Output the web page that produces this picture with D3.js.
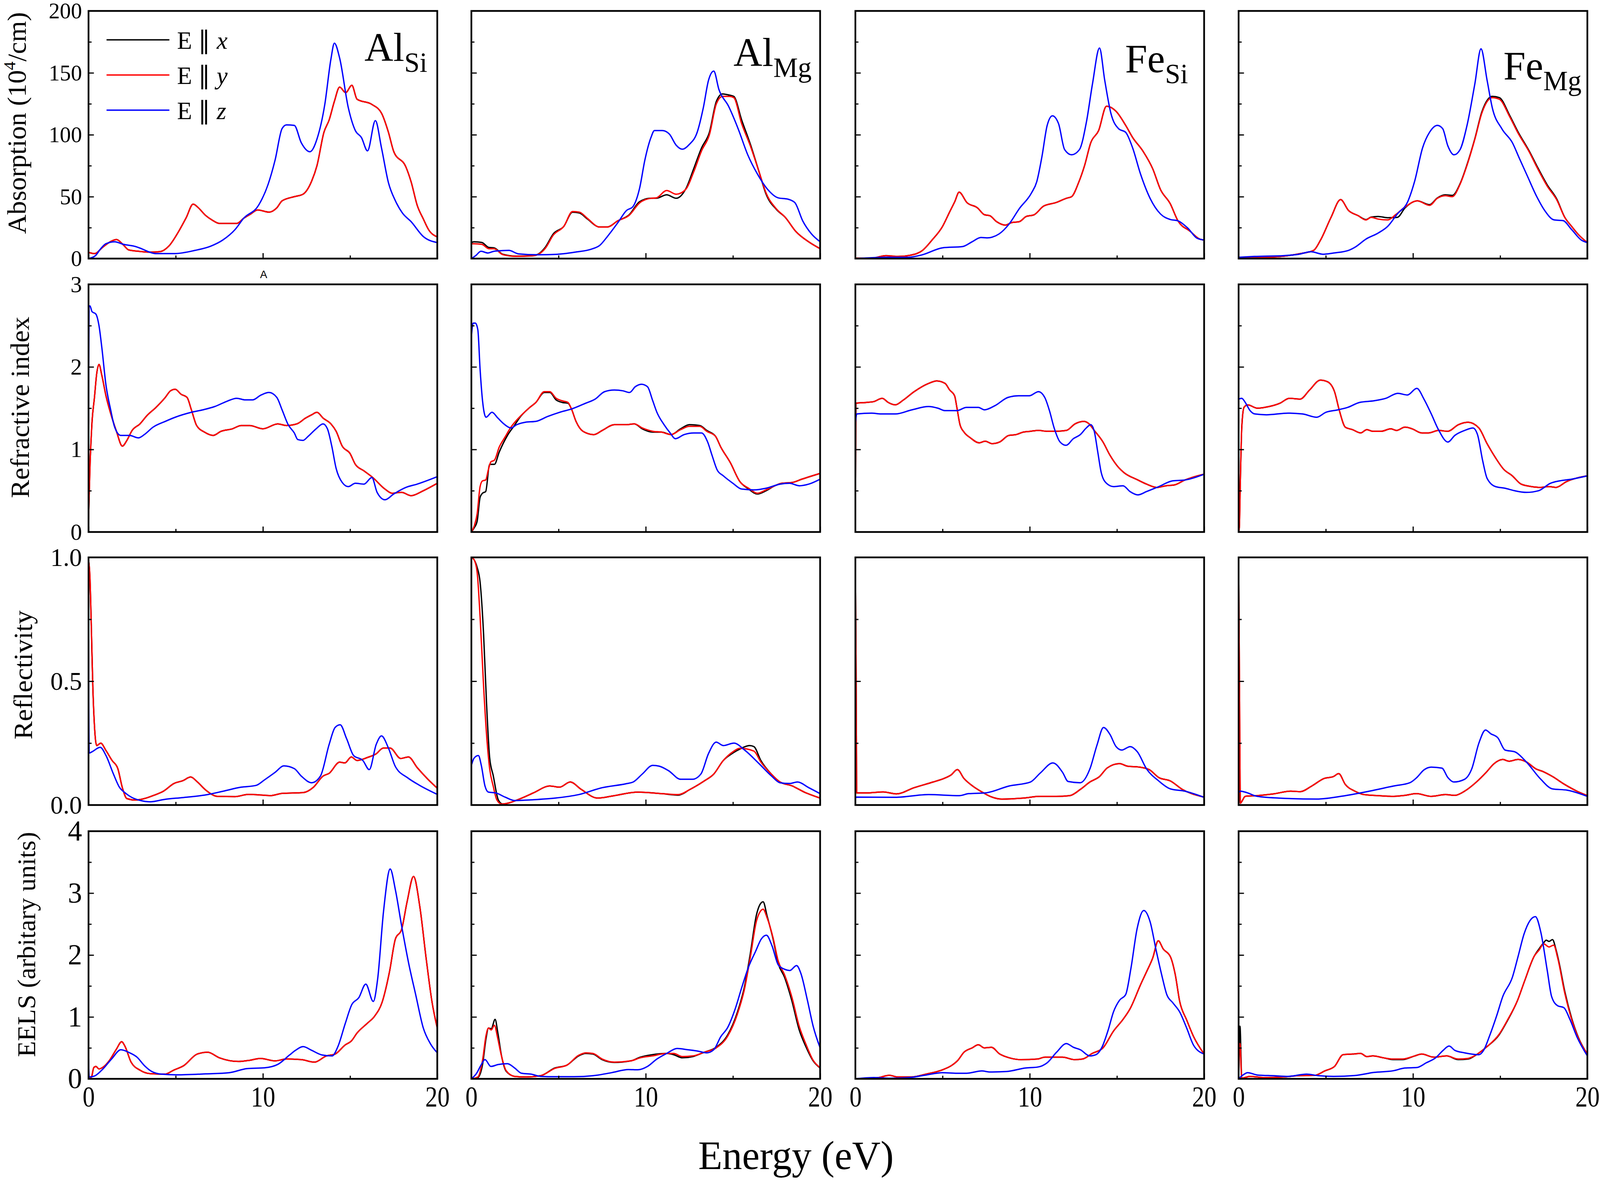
<!DOCTYPE html>
<html>
<head>
<meta charset="utf-8">
<script src="https://cdn.jsdelivr.net/npm/d3@7"></script>
<style>
  body { margin: 0; background: #fff; overflow: hidden; }
  svg { display: block; }
</style>
</head>
<body>
<div class="visuals"></div>
<script>
// ---- data: [energy (eV), value] ----
var energyMajor = [0, 10, 20];
var energyMinor = [5, 15];
var rowTitles = ["Absorption", "Refractive index", "Reflectivity", "EELS (arbitary units)"];
var rowMax = [200, 3, 1, 4];
var rowMajor = [[0, 50, 100, 150, 200], [0, 1, 2, 3], [0, 0.5, 1.0], [0, 1, 2, 3, 4]];
var rowMinor = [[25, 75, 125, 175], [0.5, 1.5, 2.5], [0.25, 0.75], [0.5, 1.5, 2.5, 3.5]];
var panelMain = ["Al", "Al", "Fe", "Fe"];
var panelSub = ["Si", "Mg", "Si", "Mg"];
var seriesNames = ["x", "y", "z"];
var seriesColors = ["#000000", "#ff0000", "#0000ff"];

// absorption (10^4/cm)
var absAlSiY = [[0,5],[0.35,4],[0.8,9],[1.3,14],[1.6,15.4],[2.0,11],[2.3,7],[2.8,6],[3.5,5.2],[4.1,5.6],[4.6,10],[5.2,22.7],[5.6,33],[6.0,44],[6.3,41],[6.7,35],[7.1,31],[7.5,28.4],[8.5,28.4],[8.9,32.6],[9.3,36],[9.7,39.3],[10.35,37.5],[10.8,41],[11.1,46.6],[11.8,50],[12.3,52],[12.8,62.7],[13.1,75],[13.5,102],[13.8,112],[14.1,127],[14.4,138.5],[14.75,134],[15.1,140],[15.4,128.7],[16.25,124.5],[16.8,117.5],[17.2,102],[17.5,86.6],[18.2,74],[18.5,62],[18.85,43],[19.2,32],[19.5,23.4],[20,17.5]];
var absAlSiX = absAlSiY;
var absAlSiZ = [[0,0],[0.4,2.4],[0.7,8],[1.0,12],[1.5,13.6],[2.0,11.5],[2.7,9.7],[3.2,7],[3.5,5.2],[3.9,4],[4.9,4],[6.1,6.6],[7.0,10],[7.7,15],[8.4,23.4],[8.9,32.6],[9.75,43],[10.3,60],[10.7,79.6],[11.1,105],[11.35,108],[11.8,107.6],[12.2,93.6],[12.7,86.3],[13.1,96.5],[13.55,124.5],[13.9,161],[14.1,174],[14.4,162],[14.9,121.7],[15.3,103.4],[15.65,97.8],[16.0,87],[16.45,111.4],[16.8,89.5],[17.2,61.3],[17.6,46.6],[18.0,36.8],[18.5,29.8],[19.2,17.8],[20,12.9]];
var absAlMgX = [[0,13],[0.15,13.6],[0.6,13],[1.0,9],[1.3,8.7],[1.8,3.5],[2.55,2],[3.5,2.4],[3.85,3.8],[4.25,9.4],[4.7,20],[5.3,26],[5.8,37.5],[6.2,36.8],[6.65,32],[7.35,25.5],[7.8,25.5],[8.4,30.5],[9.05,35.4],[9.65,46],[10.3,48.7],[10.6,48.7],[11.2,51.5],[11.75,48.7],[12.3,56.4],[12.75,72.6],[13.2,89.4],[13.65,102],[14.05,127],[14.4,133],[14.8,132],[15.05,131],[15.5,112],[16.0,92.4],[16.5,70],[16.9,52],[17.5,39.6],[18.0,33.3],[18.6,22],[19.4,13],[20,8]];
var absAlMgY = [[0,12],[0.15,12],[0.6,11.5],[1.0,8],[1.3,8],[1.8,3.2],[2.55,1.8],[3.5,2.2],[3.85,3.5],[4.25,8.5],[4.7,19],[5.3,26],[5.8,38],[6.2,37.5],[6.65,32.5],[7.35,25.5],[7.8,25.5],[8.4,30.5],[9.05,35],[9.65,45],[10.3,48.7],[10.6,49],[11.2,55],[11.75,52],[12.3,56],[12.75,70],[13.2,87],[13.65,100],[14.05,125],[14.4,131],[14.8,131],[15.05,130],[15.5,109],[16.0,91],[16.5,70],[16.9,53],[17.5,40],[18.0,33.3],[18.6,22],[19.4,13],[20,8]];
var absAlMgZ = [[0,0],[0.25,2.4],[0.55,5.9],[0.95,4.5],[1.3,5.9],[2.15,6.6],[2.7,3.8],[3.8,3.1],[4.85,3.4],[5.95,5.2],[6.9,7.7],[7.35,10.5],[7.8,17.8],[8.4,29],[8.9,38.9],[9.25,41.7],[9.65,57],[9.95,79.6],[10.3,97.8],[10.5,103.4],[10.95,103.4],[11.35,100.6],[11.75,91.5],[12.1,88.3],[12.5,92.2],[12.95,102],[13.3,121.7],[13.6,144],[13.9,151.4],[14.2,136.4],[14.75,123],[15.3,104.8],[15.85,83.8],[16.4,68.4],[17.0,55.7],[17.6,49],[18.15,48],[18.55,45.2],[19.0,30.5],[19.5,20],[20,13.6]];
var absFeSiY = [[0,0.3],[1.0,0.5],[1.75,2.4],[2.45,1.7],[3.15,2.7],[3.85,6.6],[4.4,15],[5.0,26],[5.4,37.5],[5.7,46],[5.95,53.6],[6.4,45.2],[7.0,41],[7.4,35.4],[7.7,34.7],[8.1,29.8],[8.6,27],[8.95,29],[9.4,29.8],[9.8,34],[10.25,35.4],[10.8,42.4],[11.5,45.2],[12.1,48.7],[12.4,50],[12.8,61.3],[13.15,75.4],[13.5,93.6],[13.95,103.4],[14.4,123],[14.95,118.9],[15.5,107.6],[15.9,97.8],[16.5,86.6],[17.05,72.6],[17.5,55.7],[18.05,44.5],[18.5,30.5],[19.2,22],[19.75,15.7],[20,15]];
var absFeSiX = absFeSiY;
var absFeSiZ = [[0,0],[1.9,1],[3.0,1],[3.85,3.1],[5.0,8.7],[6.15,9.7],[6.7,13.6],[7.2,17],[7.55,16.7],[8.25,20],[8.8,27.6],[9.4,40.3],[10.1,53],[10.4,62],[10.7,82.4],[11.0,107.6],[11.3,115.3],[11.65,109],[12.0,88],[12.4,83.8],[12.85,88],[13.25,110.3],[13.6,141.3],[14.0,170],[14.3,144],[14.65,117.5],[15.1,104.8],[15.5,102],[15.9,89.4],[16.35,68.4],[16.9,48.7],[17.5,36],[18.05,31.6],[18.5,30.5],[19.05,24.8],[19.6,16.4],[20,15]];
var absFeMgX = [[0,0.3],[1.15,0.7],[2.6,2],[3.45,3.8],[4.3,6.6],[4.7,15],[5.3,33.3],[5.85,47.6],[6.3,38.9],[6.85,34.7],[7.3,31.5],[7.6,33.5],[8.0,34],[8.55,33],[9.1,33.3],[9.55,41],[10.25,46.6],[10.95,43.5],[11.4,49],[11.85,51.5],[12.25,51],[12.7,60.5],[13.1,76],[13.55,97],[13.95,118.5],[14.55,131],[14.95,130],[15.55,115.5],[16.0,103],[16.7,86],[17.1,75],[17.7,59.5],[18.25,48],[18.7,33.5],[19.1,26],[19.5,19.2],[20,12.9]];
var absFeMgY = [[0,0.3],[1.15,0.7],[2.6,2],[3.45,3.8],[4.3,6.6],[4.7,15],[5.3,33.3],[5.85,47.6],[6.3,38.9],[6.85,34.7],[7.3,31.2],[7.6,33.3],[8.0,31.9],[8.55,31.2],[9.0,35.4],[9.55,41.7],[10.25,46.6],[10.95,43],[11.4,48.7],[11.85,50.8],[12.25,50],[12.7,60],[13.1,75.4],[13.55,96.5],[13.95,117.5],[14.55,130],[14.95,128.7],[15.55,114.5],[16.0,102],[16.7,85.3],[17.1,74],[17.7,58.5],[18.25,47.3],[18.7,33.3],[19.1,26],[19.5,19.2],[20,12.9]];
var absFeMgZ = [[0,1],[0.9,1.7],[2.6,2.4],[3.45,3.5],[4.15,5.5],[4.85,3.5],[5.45,4.5],[6.3,6.6],[6.7,9.4],[7.3,15.7],[8.0,20.6],[8.55,26],[9.1,36],[9.7,46],[10.1,62.7],[10.55,89.4],[10.95,102],[11.4,107.6],[11.7,105],[12.0,91],[12.35,83.8],[12.7,88],[13.1,107.6],[13.55,141.3],[13.9,169.4],[14.25,144],[14.55,121.7],[15.1,104.8],[15.7,93.6],[16.1,81],[16.55,67],[17.1,50],[17.55,38.9],[18.1,31.2],[18.6,30.7],[19.1,23.4],[19.65,15],[20,12.9]];

// refractive index
var refAlSiY = [[0,0.15],[0.08,0.77],[0.2,1.33],[0.34,1.63],[0.47,1.92],[0.6,2.03],[0.76,1.9],[1.0,1.65],[1.35,1.38],[1.6,1.22],[1.94,1.04],[2.2,1.11],[2.5,1.23],[2.95,1.31],[3.35,1.41],[3.87,1.51],[4.4,1.63],[4.7,1.71],[4.97,1.73],[5.3,1.67],[5.65,1.63],[5.9,1.48],[6.2,1.29],[6.65,1.21],[7.15,1.17],[7.6,1.22],[8.25,1.25],[8.75,1.29],[9.25,1.29],[10.0,1.25],[10.85,1.31],[11.35,1.29],[11.95,1.31],[12.45,1.38],[12.8,1.42],[13.1,1.45],[13.45,1.38],[13.9,1.31],[14.2,1.22],[14.55,1.04],[15.0,0.95],[15.3,0.82],[15.8,0.74],[16.3,0.66],[17.0,0.52],[17.4,0.47],[17.95,0.48],[18.5,0.44],[19.2,0.5],[20,0.59]];
var refAlSiX = refAlSiY;
var refAlSiZ = [[0,1.3],[0.03,2.73],[0.08,2.74],[0.2,2.67],[0.42,2.64],[0.6,2.5],[0.76,2.24],[1.0,1.78],[1.26,1.49],[1.5,1.27],[1.85,1.17],[2.35,1.17],[2.86,1.14],[3.2,1.18],[3.7,1.27],[4.4,1.34],[4.97,1.39],[5.9,1.45],[6.56,1.48],[7.24,1.52],[7.9,1.58],[8.5,1.62],[9.0,1.6],[9.4,1.6],[9.9,1.66],[10.35,1.69],[10.8,1.63],[11.1,1.48],[11.45,1.3],[11.8,1.2],[12.0,1.12],[12.3,1.11],[12.6,1.16],[13.05,1.25],[13.45,1.31],[13.7,1.25],[13.95,1.04],[14.2,0.77],[14.55,0.6],[14.9,0.55],[15.3,0.59],[15.8,0.58],[16.25,0.66],[16.55,0.48],[17.0,0.39],[17.5,0.46],[18.2,0.54],[18.85,0.58],[20,0.67]];
var refAlMgX = [[0,0],[0.16,0.05],[0.33,0.13],[0.5,0.42],[0.64,0.47],[0.82,0.49],[1.05,0.82],[1.32,0.82],[1.6,0.97],[2.07,1.17],[2.5,1.3],[2.75,1.38],[3.3,1.5],[3.7,1.57],[4.18,1.69],[4.5,1.69],[4.86,1.6],[5.2,1.57],[5.54,1.56],[5.74,1.49],[6.0,1.34],[6.4,1.22],[7.03,1.18],[7.5,1.23],[8.2,1.3],[8.87,1.3],[9.35,1.31],[9.8,1.25],[10.4,1.21],[10.9,1.21],[11.45,1.18],[12.0,1.25],[12.5,1.3],[13.1,1.29],[13.5,1.23],[14.0,1.16],[14.3,1.03],[14.85,0.84],[15.4,0.61],[15.9,0.52],[16.4,0.46],[16.9,0.5],[17.4,0.56],[17.8,0.59],[18.4,0.6],[18.95,0.64],[20,0.71]];
var refAlMgY = [[0,0],[0.16,0.07],[0.33,0.22],[0.5,0.55],[0.64,0.62],[0.82,0.63],[0.98,0.76],[1.12,0.85],[1.32,0.87],[1.6,1.03],[1.93,1.15],[2.27,1.27],[2.75,1.39],[3.3,1.5],[3.7,1.57],[4.18,1.7],[4.5,1.7],[4.86,1.62],[5.2,1.59],[5.54,1.57],[5.74,1.49],[6.0,1.34],[6.4,1.22],[7.03,1.18],[7.5,1.23],[8.2,1.3],[8.87,1.3],[9.35,1.31],[9.8,1.26],[10.4,1.22],[10.9,1.21],[11.45,1.18],[12.0,1.24],[12.5,1.28],[13.1,1.28],[13.5,1.22],[14.0,1.16],[14.3,1.03],[14.85,0.84],[15.4,0.61],[15.9,0.53],[16.4,0.47],[16.9,0.51],[17.4,0.56],[17.8,0.59],[18.4,0.6],[18.95,0.64],[20,0.71]];
var refAlMgZ = [[0,2.36],[0.1,2.53],[0.23,2.53],[0.37,2.45],[0.5,1.97],[0.64,1.59],[0.84,1.39],[1.18,1.45],[1.52,1.38],[1.86,1.31],[2.27,1.26],[2.6,1.3],[3.1,1.33],[3.7,1.34],[4.38,1.4],[5.06,1.45],[5.74,1.49],[6.55,1.56],[7.1,1.61],[7.64,1.7],[8.2,1.72],[8.7,1.71],[9.07,1.69],[9.4,1.76],[9.75,1.79],[10.1,1.76],[10.4,1.59],[10.64,1.45],[11.05,1.3],[11.4,1.2],[11.7,1.13],[12.2,1.18],[12.75,1.2],[13.2,1.2],[13.55,1.09],[13.8,0.93],[14.1,0.75],[14.45,0.68],[15.0,0.59],[15.5,0.52],[16.2,0.51],[16.9,0.53],[17.7,0.58],[18.25,0.59],[18.8,0.56],[19.35,0.58],[20,0.64]];
var refFeSiY = [[0,0],[0.03,1.56],[0.65,1.57],[1.06,1.58],[1.54,1.62],[1.88,1.57],[2.29,1.54],[2.76,1.6],[3.37,1.7],[4.2,1.8],[4.67,1.83],[5.14,1.8],[5.41,1.72],[5.69,1.65],[5.82,1.51],[6.0,1.3],[6.23,1.21],[6.6,1.14],[7.1,1.08],[7.44,1.1],[7.85,1.07],[8.27,1.09],[8.8,1.17],[9.22,1.18],[9.63,1.21],[10.04,1.22],[10.5,1.23],[11.0,1.22],[11.5,1.22],[12.1,1.23],[12.6,1.31],[13.1,1.34],[13.4,1.31],[13.7,1.23],[14.2,1.09],[14.6,0.93],[15.1,0.78],[15.4,0.72],[16.2,0.63],[16.7,0.58],[17.3,0.54],[17.8,0.56],[18.3,0.57],[18.9,0.63],[20,0.7]];
var refFeSiX = refFeSiY;
var refFeSiZ = [[0,1.3],[0.08,1.43],[0.93,1.44],[1.47,1.43],[2.29,1.43],[3.24,1.48],[4.2,1.52],[4.73,1.5],[5.14,1.47],[5.82,1.47],[6.37,1.51],[7.05,1.51],[7.4,1.48],[8.0,1.53],[8.75,1.63],[9.36,1.65],[9.97,1.65],[10.5,1.7],[10.86,1.63],[11.13,1.47],[11.4,1.26],[11.74,1.09],[12.08,1.05],[12.5,1.13],[12.9,1.18],[13.24,1.26],[13.5,1.3],[13.7,1.22],[13.9,0.97],[14.1,0.72],[14.4,0.59],[14.8,0.55],[15.35,0.56],[15.75,0.49],[16.2,0.45],[16.7,0.49],[17.4,0.55],[18.2,0.62],[18.9,0.63],[20,0.7]];
var refFeMgY = [[0,0],[0.04,0.05],[0.1,0.63],[0.18,1.26],[0.31,1.51],[0.52,1.54],[1.07,1.5],[1.75,1.52],[2.37,1.56],[2.91,1.62],[3.53,1.61],[4.07,1.72],[4.69,1.84],[5.1,1.82],[5.5,1.7],[5.78,1.47],[6.12,1.27],[6.53,1.24],[7.0,1.2],[7.35,1.24],[7.7,1.22],[8.18,1.22],[8.72,1.25],[9.06,1.23],[9.54,1.27],[9.95,1.25],[10.5,1.2],[10.9,1.2],[11.46,1.23],[12.0,1.22],[12.6,1.3],[13.16,1.33],[13.78,1.26],[14.25,1.07],[14.73,0.9],[15.2,0.76],[15.7,0.68],[16.2,0.58],[16.8,0.55],[17.3,0.54],[17.8,0.55],[18.2,0.54],[18.8,0.61],[20,0.68]];
var refFeMgX = refFeMgY;
var refFeMgZ = [[0,1.61],[0.18,1.62],[0.38,1.57],[0.66,1.47],[0.93,1.43],[1.6,1.42],[2.84,1.44],[3.66,1.43],[4.48,1.39],[5.0,1.45],[5.7,1.48],[6.26,1.51],[6.94,1.57],[7.77,1.59],[8.45,1.62],[9.13,1.68],[9.68,1.66],[10.22,1.74],[10.63,1.61],[11.05,1.43],[11.46,1.24],[12.0,1.09],[12.4,1.17],[12.96,1.23],[13.44,1.26],[13.7,1.18],[14.0,0.86],[14.25,0.65],[14.73,0.55],[15.28,0.53],[15.83,0.5],[16.5,0.48],[17.2,0.5],[17.88,0.59],[18.43,0.62],[19.1,0.64],[20,0.68]];

// reflectivity
var reflAlSiY = [[0,0.99],[0.08,0.92],[0.17,0.69],[0.25,0.47],[0.34,0.32],[0.47,0.24],[0.7,0.25],[1.0,0.22],[1.35,0.18],[1.68,0.147],[1.94,0.07],[2.2,0.026],[2.7,0.02],[3.2,0.026],[3.7,0.038],[4.3,0.056],[4.9,0.087],[5.4,0.098],[5.86,0.113],[6.23,0.094],[6.73,0.06],[7.4,0.035],[8.4,0.034],[9.17,0.043],[9.76,0.041],[10.44,0.038],[11.1,0.047],[12.3,0.05],[12.9,0.072],[13.45,0.117],[13.8,0.128],[14.4,0.173],[14.7,0.17],[15.07,0.194],[15.4,0.18],[16.0,0.192],[16.5,0.207],[16.9,0.23],[17.3,0.23],[17.9,0.188],[18.35,0.194],[18.85,0.151],[19.45,0.105],[20,0.068]];
var reflAlSiX = reflAlSiY;
var reflAlSiZ = [[0,0.67],[0.04,0.21],[0.2,0.215],[0.67,0.233],[1.0,0.2],[1.43,0.125],[1.77,0.072],[2.1,0.049],[2.5,0.03],[2.95,0.019],[3.54,0.013],[4.38,0.023],[5.4,0.03],[6.73,0.041],[7.74,0.056],[8.75,0.072],[9.6,0.079],[10.1,0.102],[10.7,0.132],[11.2,0.158],[11.8,0.147],[12.2,0.117],[12.8,0.09],[13.3,0.117],[13.8,0.245],[14.14,0.313],[14.43,0.324],[14.8,0.268],[15.2,0.2],[15.73,0.18],[16.1,0.143],[16.5,0.245],[16.8,0.279],[17.2,0.23],[17.6,0.155],[18.3,0.11],[19.0,0.079],[20,0.043]];
var reflAlMgX = [[0,1.0],[0.16,0.99],[0.33,0.96],[0.5,0.9],[0.7,0.69],[0.87,0.41],[1.05,0.19],[1.25,0.12],[1.55,0.02],[1.8,0.004],[2.07,0.007],[2.75,0.024],[3.56,0.049],[4.5,0.077],[5.06,0.072],[5.67,0.093],[6.3,0.063],[7.24,0.028],[8.2,0.038],[9.55,0.052],[10.9,0.046],[11.86,0.04],[12.54,0.063],[13.35,0.097],[13.9,0.125],[14.45,0.18],[15.0,0.21],[15.4,0.226],[15.95,0.24],[16.2,0.236],[16.6,0.18],[17.2,0.125],[17.7,0.093],[18.4,0.077],[19.1,0.052],[20,0.028]];
var reflAlMgY = [[0,1.0],[0.16,0.99],[0.33,0.94],[0.5,0.76],[0.7,0.48],[0.87,0.285],[1.05,0.146],[1.25,0.077],[1.46,0.021],[1.73,0.004],[2.07,0.007],[2.75,0.024],[3.56,0.049],[4.5,0.077],[5.06,0.072],[5.67,0.093],[6.3,0.063],[7.24,0.028],[8.2,0.038],[9.55,0.052],[10.9,0.046],[11.86,0.042],[12.54,0.063],[13.35,0.097],[13.9,0.125],[14.45,0.18],[15.0,0.215],[15.4,0.229],[16.2,0.218],[16.6,0.174],[17.2,0.125],[17.7,0.093],[18.4,0.077],[19.1,0.052],[20,0.028]];
var reflAlMgZ = [[0,0.16],[0.16,0.19],[0.4,0.2],[0.57,0.16],[0.78,0.077],[0.98,0.052],[1.39,0.049],[1.93,0.032],[2.48,0.018],[3.43,0.021],[4.8,0.028],[6.15,0.042],[7.5,0.07],[8.87,0.086],[9.28,0.093],[9.8,0.125],[10.4,0.16],[10.77,0.157],[11.3,0.139],[12.0,0.104],[12.68,0.104],[13.16,0.125],[13.6,0.208],[14.04,0.254],[14.45,0.24],[15.06,0.25],[15.67,0.222],[16.5,0.167],[17.2,0.118],[17.7,0.09],[18.25,0.087],[18.7,0.093],[19.35,0.07],[20,0.046]];
var reflFeSiY = [[0,1.0],[0.04,0.55],[0.08,0.049],[0.65,0.049],[1.6,0.053],[2.35,0.045],[3.37,0.07],[4.46,0.093],[5.07,0.107],[5.48,0.121],[5.85,0.143],[6.23,0.107],[6.78,0.074],[7.18,0.056],[7.73,0.035],[8.4,0.024],[9.63,0.028],[10.6,0.035],[11.5,0.035],[12.3,0.038],[12.9,0.063],[13.45,0.093],[14.0,0.115],[14.45,0.15],[15.15,0.167],[15.6,0.157],[16.3,0.153],[16.85,0.143],[17.4,0.111],[18.07,0.097],[18.75,0.063],[20,0.032]];
var reflFeSiX = reflFeSiY;
var reflFeSiZ = [[0,0.021],[0.04,0.032],[2.28,0.031],[4.2,0.042],[5.96,0.038],[6.5,0.046],[7.46,0.049],[8.82,0.077],[10.04,0.093],[10.6,0.129],[11.33,0.17],[11.88,0.132],[12.2,0.095],[12.9,0.09],[13.45,0.146],[13.86,0.243],[14.23,0.313],[14.6,0.285],[14.95,0.236],[15.28,0.222],[15.76,0.236],[16.17,0.215],[16.7,0.146],[17.4,0.097],[18.07,0.065],[18.9,0.056],[20,0.031]];
var reflFeMgY = [[0,1.0],[0.05,0.48],[0.1,0.007],[0.18,0.014],[0.38,0.035],[1.07,0.038],[2.0,0.045],[3.0,0.056],[3.53,0.054],[4.2,0.077],[4.9,0.107],[5.44,0.115],[5.74,0.127],[6.12,0.083],[6.67,0.056],[7.2,0.042],[8.0,0.038],[8.9,0.035],[9.54,0.039],[10.2,0.046],[11.05,0.035],[11.86,0.042],[12.4,0.039],[12.96,0.056],[13.64,0.093],[14.2,0.132],[14.65,0.167],[15.15,0.184],[15.5,0.177],[16.03,0.184],[16.5,0.174],[17.05,0.146],[17.46,0.135],[18.0,0.115],[18.7,0.083],[19.4,0.056],[20,0.038]];
var reflFeMgX = reflFeMgY;
var reflFeMgZ = [[0,0.049],[0.1,0.056],[0.38,0.052],[1.07,0.035],[2.3,0.028],[4.48,0.024],[6.12,0.038],[7.5,0.056],[8.9,0.077],[9.82,0.09],[10.22,0.111],[10.63,0.142],[11.05,0.153],[11.66,0.149],[12.0,0.111],[12.34,0.093],[12.96,0.104],[13.37,0.146],[13.78,0.25],[14.16,0.303],[14.46,0.288],[14.87,0.271],[15.28,0.222],[15.83,0.215],[16.5,0.174],[17.33,0.104],[18.0,0.065],[18.84,0.06],[20,0.035]];

// EELS (arbitrary units)
var eelsAlSiY = [[0,0],[0.17,0.03],[0.3,0.18],[0.42,0.2],[0.6,0.16],[0.84,0.19],[1.18,0.29],[1.6,0.48],[1.9,0.6],[2.1,0.52],[2.44,0.27],[2.95,0.14],[3.54,0.083],[4.38,0.075],[4.88,0.14],[5.47,0.215],[6.23,0.4],[6.82,0.43],[7.5,0.34],[8.6,0.28],[9.26,0.3],[9.85,0.33],[10.7,0.29],[11.36,0.32],[12.2,0.31],[12.96,0.27],[13.64,0.37],[14.14,0.4],[14.73,0.55],[15.07,0.61],[15.4,0.74],[16.0,0.9],[16.4,1.01],[16.84,1.24],[17.26,1.73],[17.6,2.26],[17.95,2.41],[18.27,2.86],[18.64,3.27],[19.0,2.78],[19.36,1.95],[19.7,1.24],[20,0.82]];
var eelsAlSiX = eelsAlSiY;
var eelsAlSiZ = [[0,0.33],[0.04,0.03],[0.34,0.045],[0.76,0.14],[1.35,0.33],[1.85,0.47],[2.36,0.42],[2.78,0.35],[3.2,0.215],[3.62,0.12],[4.2,0.075],[5.05,0.064],[6.73,0.08],[8.08,0.1],[9.1,0.166],[10.1,0.178],[10.86,0.234],[11.53,0.385],[11.87,0.46],[12.3,0.52],[12.8,0.46],[13.4,0.385],[13.97,0.37],[14.3,0.52],[14.73,0.9],[15.1,1.2],[15.5,1.31],[15.9,1.53],[16.33,1.25],[16.58,1.61],[16.92,2.71],[17.3,3.39],[17.6,3.05],[17.95,2.48],[18.35,1.88],[18.77,1.35],[19.2,0.82],[19.6,0.57],[20,0.42]];
var eelsAlMgX = [[0,0],[0.37,0.02],[0.64,0.23],[0.84,0.65],[0.98,0.82],[1.14,0.81],[1.36,0.96],[1.52,0.74],[1.73,0.37],[2.0,0.12],[2.48,0.04],[3.16,0.03],[3.97,0.05],[4.79,0.175],[5.47,0.22],[6.15,0.37],[6.56,0.41],[6.97,0.4],[7.5,0.31],[8.2,0.265],[9.14,0.29],[9.69,0.35],[10.37,0.39],[11.2,0.41],[11.6,0.39],[12.1,0.34],[12.7,0.36],[13.36,0.43],[14.04,0.51],[14.7,0.71],[15.26,1.08],[15.67,1.5],[16.0,2.03],[16.35,2.65],[16.56,2.82],[16.73,2.86],[16.96,2.63],[17.3,2.26],[17.6,1.86],[17.96,1.64],[18.37,1.27],[18.8,0.79],[19.2,0.51],[19.6,0.29],[20,0.175]];
var eelsAlMgY = [[0,0],[0.37,0.03],[0.64,0.3],[0.84,0.7],[0.98,0.82],[1.14,0.79],[1.32,0.865],[1.5,0.67],[1.7,0.4],[2.0,0.13],[2.48,0.04],[3.16,0.03],[3.97,0.05],[4.79,0.17],[5.47,0.22],[6.15,0.38],[6.56,0.42],[6.97,0.41],[7.5,0.32],[8.2,0.27],[9.14,0.29],[9.69,0.34],[10.37,0.37],[11.2,0.41],[11.6,0.41],[12.1,0.36],[12.7,0.37],[13.36,0.43],[14.04,0.5],[14.7,0.69],[15.26,1.05],[15.67,1.46],[16.0,1.97],[16.35,2.55],[16.56,2.7],[16.73,2.74],[16.96,2.6],[17.3,2.28],[17.6,1.9],[17.96,1.68],[18.37,1.33],[18.8,0.85],[19.2,0.55],[19.6,0.3],[20,0.18]];
var eelsAlMgZ = [[0,0],[0.3,0.09],[0.55,0.22],[0.78,0.31],[1.12,0.2],[1.52,0.23],[2.07,0.245],[2.48,0.175],[2.88,0.09],[3.43,0.076],[3.97,0.04],[4.79,0.034],[5.88,0.034],[6.97,0.05],[8.05,0.1],[9.0,0.15],[9.55,0.146],[10.1,0.2],[10.64,0.32],[11.2,0.41],[11.8,0.49],[12.4,0.47],[12.95,0.45],[13.5,0.42],[13.9,0.47],[14.3,0.68],[14.7,0.83],[15.13,1.13],[15.5,1.47],[15.9,1.81],[16.3,2.06],[16.63,2.26],[16.92,2.32],[17.24,2.15],[17.6,1.84],[17.96,1.77],[18.26,1.75],[18.65,1.83],[18.9,1.7],[19.27,1.27],[19.6,0.85],[20,0.5]];
var eelsFeSiY = [[0,0],[0.65,0],[1.33,0.02],[1.95,0.056],[2.42,0.03],[3.24,0.03],[4.05,0.076],[5.0,0.146],[5.54,0.22],[5.88,0.3],[6.23,0.43],[6.7,0.5],[7.05,0.55],[7.4,0.5],[7.8,0.51],[8.28,0.4],[8.82,0.34],[9.5,0.31],[10.45,0.32],[10.86,0.35],[11.88,0.35],[12.56,0.31],[13.03,0.32],[13.58,0.41],[14.2,0.5],[14.8,0.77],[15.35,0.96],[15.75,1.13],[16.37,1.53],[16.7,1.73],[17.05,1.95],[17.37,2.23],[17.65,2.1],[18.07,1.97],[18.34,1.69],[18.6,1.25],[19.0,0.95],[19.4,0.68],[20,0.4]];
var eelsFeSiX = eelsFeSiY;
var eelsFeSiZ = [[0,0],[1.06,0.02],[2.0,0.01],[3.1,0.02],[4.05,0.062],[5.0,0.1],[5.82,0.09],[6.37,0.09],[7.25,0.127],[7.73,0.11],[8.67,0.118],[9.76,0.175],[10.45,0.19],[11.0,0.26],[11.54,0.43],[12.1,0.57],[12.5,0.51],[12.9,0.47],[13.45,0.37],[13.8,0.39],[14.14,0.51],[14.5,0.79],[14.8,1.08],[15.15,1.27],[15.5,1.36],[15.8,1.78],[16.16,2.43],[16.54,2.72],[16.9,2.54],[17.26,2.06],[17.6,1.64],[17.86,1.36],[18.2,1.23],[18.6,1.08],[19.0,0.82],[19.4,0.54],[20,0.4]];
var eelsFeMgX = [[0,0],[0.08,0.85],[0.18,0.01],[0.66,0.04],[1.48,0.02],[2.57,0.03],[3.4,0.05],[4.35,0.056],[4.96,0.13],[5.5,0.2],[5.99,0.39],[6.53,0.4],[7.0,0.41],[7.35,0.36],[7.7,0.37],[8.3,0.34],[8.86,0.31],[9.4,0.31],[10.1,0.37],[10.5,0.4],[11.2,0.35],[11.93,0.37],[12.6,0.31],[13.16,0.32],[13.64,0.39],[14.2,0.51],[14.94,0.71],[15.4,0.93],[16.0,1.27],[16.4,1.58],[16.95,1.98],[17.23,2.1],[17.5,2.2],[17.64,2.24],[17.8,2.22],[18.0,2.25],[18.2,2.09],[18.4,1.85],[18.7,1.42],[19.1,0.98],[19.5,0.66],[20,0.4]];
var eelsFeMgY = [[0,0],[0.08,0.57],[0.18,0.01],[0.66,0.04],[1.48,0.02],[2.57,0.03],[3.4,0.05],[4.35,0.056],[4.96,0.13],[5.5,0.2],[5.99,0.39],[6.53,0.4],[7.0,0.41],[7.35,0.36],[7.7,0.37],[8.3,0.34],[8.86,0.32],[9.4,0.32],[10.1,0.37],[10.5,0.4],[11.2,0.35],[11.93,0.37],[12.6,0.32],[13.16,0.33],[13.64,0.39],[14.2,0.51],[14.94,0.72],[15.4,0.94],[16.0,1.27],[16.4,1.58],[16.95,1.98],[17.23,2.08],[17.5,2.18],[17.8,2.13],[18.07,2.16],[18.3,1.95],[18.7,1.39],[19.1,0.96],[19.5,0.65],[20,0.4]];
var eelsFeMgZ = [[0,0],[0.25,0.062],[0.52,0.1],[1.07,0.062],[2.0,0.05],[2.84,0.04],[3.9,0.076],[4.6,0.05],[5.44,0.04],[6.67,0.054],[7.77,0.104],[8.86,0.13],[9.54,0.175],[10.22,0.183],[10.77,0.26],[11.3,0.34],[11.73,0.46],[12.07,0.53],[12.4,0.46],[12.96,0.42],[13.78,0.39],[14.05,0.46],[14.4,0.7],[14.8,1.02],[15.15,1.33],[15.7,1.64],[16.03,1.98],[16.37,2.34],[16.72,2.56],[17.02,2.62],[17.33,2.37],[17.7,1.75],[17.95,1.33],[18.3,1.18],[18.65,1.15],[19.0,0.96],[19.4,0.68],[20,0.37]];

// table for drawing: [row][column][series]
var panelSeries = [
  [[absAlSiX, absAlSiY, absAlSiZ], [absAlMgX, absAlMgY, absAlMgZ], [absFeSiX, absFeSiY, absFeSiZ], [absFeMgX, absFeMgY, absFeMgZ]],
  [[refAlSiX, refAlSiY, refAlSiZ], [refAlMgX, refAlMgY, refAlMgZ], [refFeSiX, refFeSiY, refFeSiZ], [refFeMgX, refFeMgY, refFeMgZ]],
  [[reflAlSiX, reflAlSiY, reflAlSiZ], [reflAlMgX, reflAlMgY, reflAlMgZ], [reflFeSiX, reflFeSiY, reflFeSiZ], [reflFeMgX, reflFeMgY, reflFeMgZ]],
  [[eelsAlSiX, eelsAlSiY, eelsAlSiZ], [eelsAlMgX, eelsAlMgY, eelsAlMgZ], [eelsFeSiX, eelsFeSiY, eelsFeSiZ], [eelsFeMgX, eelsFeMgY, eelsFeMgZ]]
];

// ---- layout (in the 4175 x 3021 space of the original figure) ----
var W = 4175, H = 3021;
var colLeft = [231, 1230, 2232, 3232];
var rowTop = [28, 728, 1427, 2128];
var panelW = 910, panelH = 634;
var serif = "'Liberation Serif', 'Times New Roman', Times, serif";
var yTickFont = [58, 60, 66, 74];
var yTickFormat = [d3.format("d"), d3.format("d"), d3.format(".1f"), d3.format("d")];
var titlePos = [[67, 315, 69], [75, 1043, 70], [84, 1728, 70], [92, 2418, 67]];
var labelRight = [[1115, 156], [2118, 169], [3100, 185], [4127, 203]];

// the window can be narrower than the figure, so fit the figure to it
var viewW = window.innerWidth || W, viewH = window.innerHeight || H;

var svg = d3.select(".visuals").append("svg")
  .attr("width", viewW)
  .attr("height", viewH)
  .attr("viewBox", "0 0 " + W + " " + H)
  .attr("preserveAspectRatio", "none")
  .style("background", "#fff");

var styleAxis = function(sel, fontSize){
  sel.select(".domain").remove();
  sel.selectAll(".tick line").attr("stroke", "#000").attr("stroke-width", 3);
  sel.selectAll(".tick text")
    .attr("fill", "#000")
    .style("font-family", serif)
    .style("font-size", fontSize + "px");
};
var blank = function(){ return ""; };

var x = d3.scaleLinear().domain([0, 20]).range([0, panelW]);

rowMax.forEach(function(ymax, r){
  var y = d3.scaleLinear().domain([0, ymax]).range([panelH, 0]);
  var line = d3.line()
    .x(function(d){ return x(d[0]); })
    .y(function(d){ return y(d[1]); })
    .curve(d3.curveMonotoneX);

  panelMain.forEach(function(name, c){
    var g = svg.append("g")
      .attr("transform", "translate(" + colLeft[c] + "," + rowTop[r] + ")");
    var clipId = "clip-" + r + "-" + c;
    g.append("clipPath").attr("id", clipId)
      .append("rect").attr("width", panelW).attr("height", panelH);

    g.append("g").attr("clip-path", "url(#" + clipId + ")")
      .selectAll("path")
      .data(panelSeries[r][c])
    .enter().append("path")
      .attr("d", line)
      .attr("fill", "none")
      .attr("stroke", function(d, i){ return seriesColors[i]; })
      .attr("stroke-width", 3.5)
      .attr("stroke-linejoin", "round");

    g.append("rect")
      .attr("width", panelW)
      .attr("height", panelH)
      .attr("fill", "none")
      .attr("stroke", "#000")
      .attr("stroke-width", 4.5);

    // bottom ticks, pointing inwards
    g.append("g").attr("transform", "translate(0," + panelH + ")")
      .call(d3.axisBottom(x).tickValues(energyMajor).tickSize(-14).tickPadding(18)
        .tickFormat(r === 3 ? d3.format("d") : blank))
      .call(styleAxis, 74)
      .selectAll(".tick text").attr("transform", "scale(0.86,1)");
    g.append("g").attr("transform", "translate(0," + panelH + ")")
      .call(d3.axisBottom(x).tickValues(energyMinor).tickSize(-8).tickFormat(blank))
      .call(styleAxis, 10);

    // left ticks, pointing inwards
    g.append("g")
      .call(d3.axisLeft(y).tickValues(rowMajor[r]).tickSize(-14).tickPadding(17)
        .tickFormat(c === 0 ? yTickFormat[r] : blank))
      .call(styleAxis, yTickFont[r]);
    g.append("g")
      .call(d3.axisLeft(y).tickValues(rowMinor[r]).tickSize(-8).tickFormat(blank))
      .call(styleAxis, 10);
  });
});

// panel labels, right-aligned like the original
panelMain.forEach(function(name, c){
  var t = svg.append("text")
    .attr("x", labelRight[c][0])
    .attr("y", labelRight[c][1])
    .attr("text-anchor", "end")
    .style("font-family", serif)
    .style("font-size", "104px")
    .attr("fill", "#000");
  t.append("tspan").text(name);
  t.append("tspan").attr("dy", 28).style("font-size", "72px").text(panelSub[c]);
});

// legend in first panel
var legend = svg.append("g");
seriesNames.forEach(function(s, i){
  var ly = 102 + i * 90;
  legend.append("line")
    .attr("x1", 278).attr("x2", 442)
    .attr("y1", ly).attr("y2", ly)
    .attr("stroke", seriesColors[i])
    .attr("stroke-width", 3.5);
  var t = legend.append("text")
    .attr("x", 462)
    .attr("y", ly + 23)
    .style("font-family", serif)
    .style("font-size", "64px")
    .attr("fill", "#000");
  t.append("tspan").text("E \u2225 ");
  t.append("tspan").style("font-style", "italic").text(s);
});

// row titles
rowTitles.forEach(function(title, r){
  var t = svg.append("text")
    .attr("transform", "translate(" + titlePos[r][0] + "," + titlePos[r][1] + ") rotate(-90)")
    .attr("text-anchor", "middle")
    .style("font-family", serif)
    .style("font-size", titlePos[r][2] + "px")
    .attr("fill", "#000");
  t.append("tspan").text(title);
  if (r === 0) {
    t.append("tspan").text(" (10");
    t.append("tspan").attr("dy", -27).style("font-size", "44px").text("4");
    t.append("tspan").attr("dy", 27).text("/cm)");
  }
});

// stray mark under the first panel
svg.append("text")
  .attr("x", 688).attr("y", 712)
  .attr("text-anchor", "middle")
  .style("font-family", "'Liberation Sans', Arial, sans-serif")
  .style("font-size", "28px")
  .attr("fill", "#000")
  .text("A");

svg.append("text")
  .attr("x", 2077).attr("y", 2993)
  .attr("text-anchor", "middle")
  .style("font-family", serif)
  .style("font-size", "103px")
  .attr("fill", "#000")
  .text("Energy (eV)");
</script>
</body>
</html>
